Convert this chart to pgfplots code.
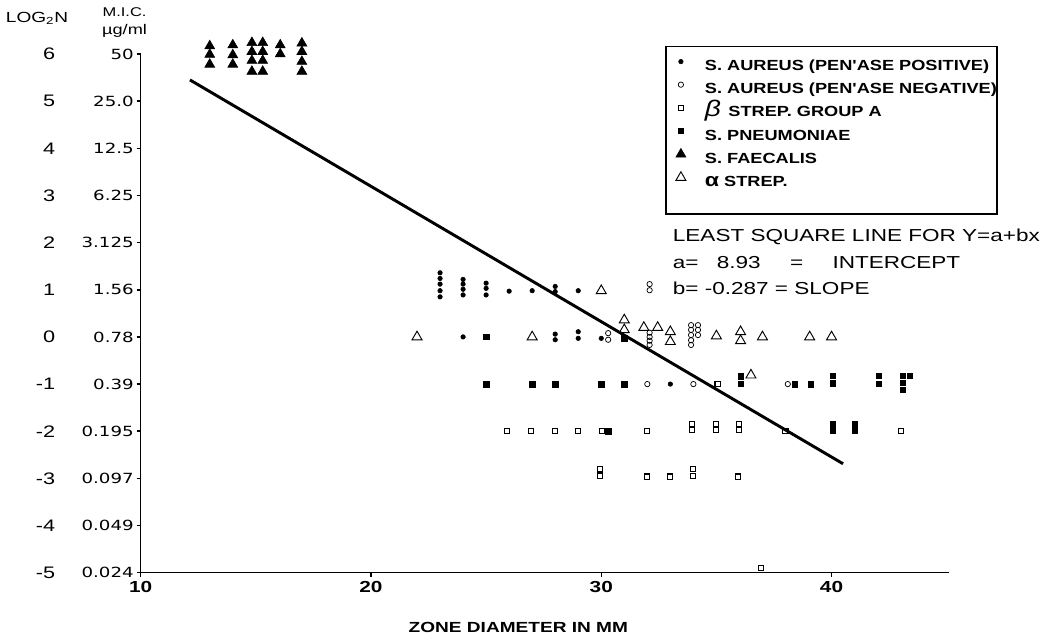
\documentclass[border=0pt]{standalone}
\usepackage{pgfplots}
\pgfplotsset{compat=1.18}
\usepackage{fontspec}
\setmainfont{Liberation Sans}[FakeStretch=1.3]
\newfontfamily\myytfont{DejaVu Sans}[FakeStretch=1.3]
\newfontfamily\mylegfont{Liberation Sans}[FakeStretch=1.24]
\newcommand{\ylab}[3]{\node[anchor=east,inner sep=0pt,font=\myytfont\fontsize{10.5}{10.5}\selectfont] at ([xshift=-5pt]axis cs:10,#1) {#3};
 \node[anchor=east,inner sep=0pt,font=\fontsize{12.5}{12.5}\selectfont] at ([xshift=-64pt]axis cs:10,#1) {#2};}
\begin{document}
\begin{tikzpicture}
\begin{axis}[
  scale only axis, width=606.2pt, height=389pt,
  xmin=10, xmax=45.1, ymin=-5, ymax=6,
  axis lines=left, axis line style={line width=1.1pt, -},
  clip=false,
  tick align=outside, major tick length=3pt,
  tick style={line width=1.1pt, black},
  xtick={10,20,30,40}, xticklabels={10,20,30,40},
  xticklabel style={font=\bfseries\fontsize{12}{12}\selectfont},
  ytick={-5,-4,-3,-2,-1,0,1,2,3,4,5,6},
  yticklabels={},
  legend style={at={(axis cs:33.1,5.96)}, anchor=north west, draw=none, fill=none, inner sep=0pt,
    font=\mylegfont\bfseries\fontsize{11}{11}\selectfont, row sep=3.8pt,
    nodes={inner xsep=2pt, inner ysep=0pt, text height=8.5pt, text depth=2.5pt}},
  legend cell align=left,
  legend image code/.code={\path[draw=none,fill=none] (0pt,0pt) rectangle (22pt,8pt); \draw[#1] plot coordinates {(6pt,3.9pt)};},
]
\addplot[only marks, mark=*, mark size=1.7pt, black] coordinates {
 (23,1.36) (23,1.24) (23,1.12) (23,0.98) (23,0.85)
 (24,1.22) (24,1.12) (24,1.01) (24,0.89)
 (25,1.14) (25,1.03) (25,0.89)
 (26,0.97) (27,0.98) (28,1.07) (28,0.96) (29,0.98)
 (24,0) (28,0.06) (28,-0.06) (29,0.11) (29,-0.03) (30,-0.03)
 (33,-1)
};
\addlegendentry{S. AUREUS (PEN'ASE POSITIVE)}
\addplot[only marks, mark=o, mark size=2pt, black, mark options={line width=0.55pt}] coordinates {
 (32.1,1.12) (32.1,0.99)
 (30.3,0.08) (30.3,-0.06)
 (32.1,0.09) (32.1,0.0) (32.1,-0.08) (32.1,-0.17)
 (33.9,0.25) (33.9,0.15) (33.9,0.04) (33.9,-0.07) (33.9,-0.17)
 (34.2,0.25) (34.2,0.15) (34.2,0.04)
 (32,-1) (34,-1) (38.1,-1)
};
\addlegendentry{S. AUREUS (PEN'ASE NEGATIVE)}
\addplot[only marks, mark=square, mark size=1.9pt, black, mark options={line width=0.8pt}] coordinates {
 (25.9,-2) (26.95,-2) (28,-2) (29,-2) (30.05,-2) (32,-2)
 (33.95,-1.85) (33.95,-1.97) (35,-1.85) (35,-1.97) (36,-1.85) (36,-1.97)
 (38,-2) (43,-2)
 (29.95,-2.8) (29.95,-2.94) (32,-2.96) (33,-2.96) (34,-2.8) (34,-2.95) (35.95,-2.96)
 (35.05,-1) (36.95,-4.9)
};
\addlegendentry{{\mdseries\itshape\fontsize{17}{11}\selectfont β}\, STREP. GROUP A}
\addplot[only marks, mark=square*, mark size=2.1pt, black] coordinates {
 (25,0) (31,-0.03)
 (25,-1) (27,-1) (28,-1) (30,-1) (31,-1)
 (36.05,-0.83) (36.05,-0.99) (38.4,-1) (39.1,-1)
 (40.05,-0.82) (40.05,-0.98) (42.05,-0.82) (42.05,-0.99)
 (43.1,-0.82) (43.1,-0.97) (43.1,-1.12) (43.4,-0.82)
 (30.3,-2) (40.05,-1.84) (40.05,-1.98) (41,-1.84) (41,-1.98)
};
\addlegendentry{S. PNEUMONIAE}
\addplot[only marks, mark=triangle*, mark size=4.3pt, black] coordinates {
 (13,6.17) (13,5.99) (13,5.78)
 (14,6.19) (14,5.98) (14,5.78)
 (14.83,6.24) (14.83,6.05) (14.83,5.86) (14.83,5.63)
 (15.3,6.24) (15.3,6.05) (15.3,5.86) (15.3,5.63)
 (16.06,6.19) (16.06,6.0)
 (17,6.23) (17,6.05) (17,5.84) (17,5.63)
};
\addlegendentry{S. FAECALIS}
\addplot[only marks, mark=triangle, mark size=4.3pt, black, mark options={line width=0.7pt}] coordinates {
 (22,0) (27,0) (30,0.98) (31,0.36) (31,0.15) (31.85,0.2) (32.45,0.2)
 (33,0.11) (33,-0.1) (35,0.02) (36.05,0.11) (36.05,-0.08) (37,0)
 (39.05,0) (40,0) (36.5,-0.81)
};
\addlegendentry{{\fontsize{14}{11}\selectfont α} STREP.}
\addplot[black, line width=2.2pt, forget plot] coordinates {(12.14,5.45) (40.5,-2.69)};
\draw[line width=1.3pt] (axis cs:32.8,6.16) rectangle (axis cs:47.2,2.6);
\node[anchor=west, inner sep=0pt, font=\fontsize{13}{13}\selectfont] at (axis cs:33.1,2.12) {LEAST SQUARE LINE FOR Y=a+bx};
\node[anchor=west, inner sep=0pt, font=\fontsize{13}{13}\selectfont] at (axis cs:33.1,1.58) {a=\hspace{9pt} 8.93\hspace{22pt}=\hspace{22pt}INTERCEPT};
\node[anchor=west, inner sep=0pt, font=\fontsize{13}{13}\selectfont] at (axis cs:33.1,1.04) {b= -0.287 = SLOPE};
\ylab{-5}{-5}{0.024}
\ylab{-4}{-4}{0.049}
\ylab{-3}{-3}{0.097}
\ylab{-2}{-2}{0.195}
\ylab{-1}{-1}{0.39}
\ylab{0}{0}{0.78}
\ylab{1}{1}{1.56}
\ylab{2}{2}{3.125}
\ylab{3}{3}{6.25}
\ylab{4}{4}{12.5}
\ylab{5}{5}{25.0}
\ylab{6}{6}{50}
\node[font=\fontsize{11}{11}\selectfont] at (axis cs:5.5,6.76) {LOG\textsubscript{2}N};
\node[font=\fontsize{9.5}{9.5}\selectfont] at (axis cs:9.3,6.88) {M.I.C.};
\node[font=\fontsize{10.5}{10.5}\selectfont] at (axis cs:9.3,6.48) {µg/ml};
\node[font=\bfseries\fontsize{11}{11}\selectfont] at (axis cs:26.4,-6.17) {ZONE DIAMETER IN MM};
\end{axis}
\pgfresetboundingbox
\useasboundingbox ([xshift=-105.5pt,yshift=-49pt]current axis.south west) rectangle ([xshift=682.7pt,yshift=429.5pt]current axis.south west);
\end{tikzpicture}
\end{document}
